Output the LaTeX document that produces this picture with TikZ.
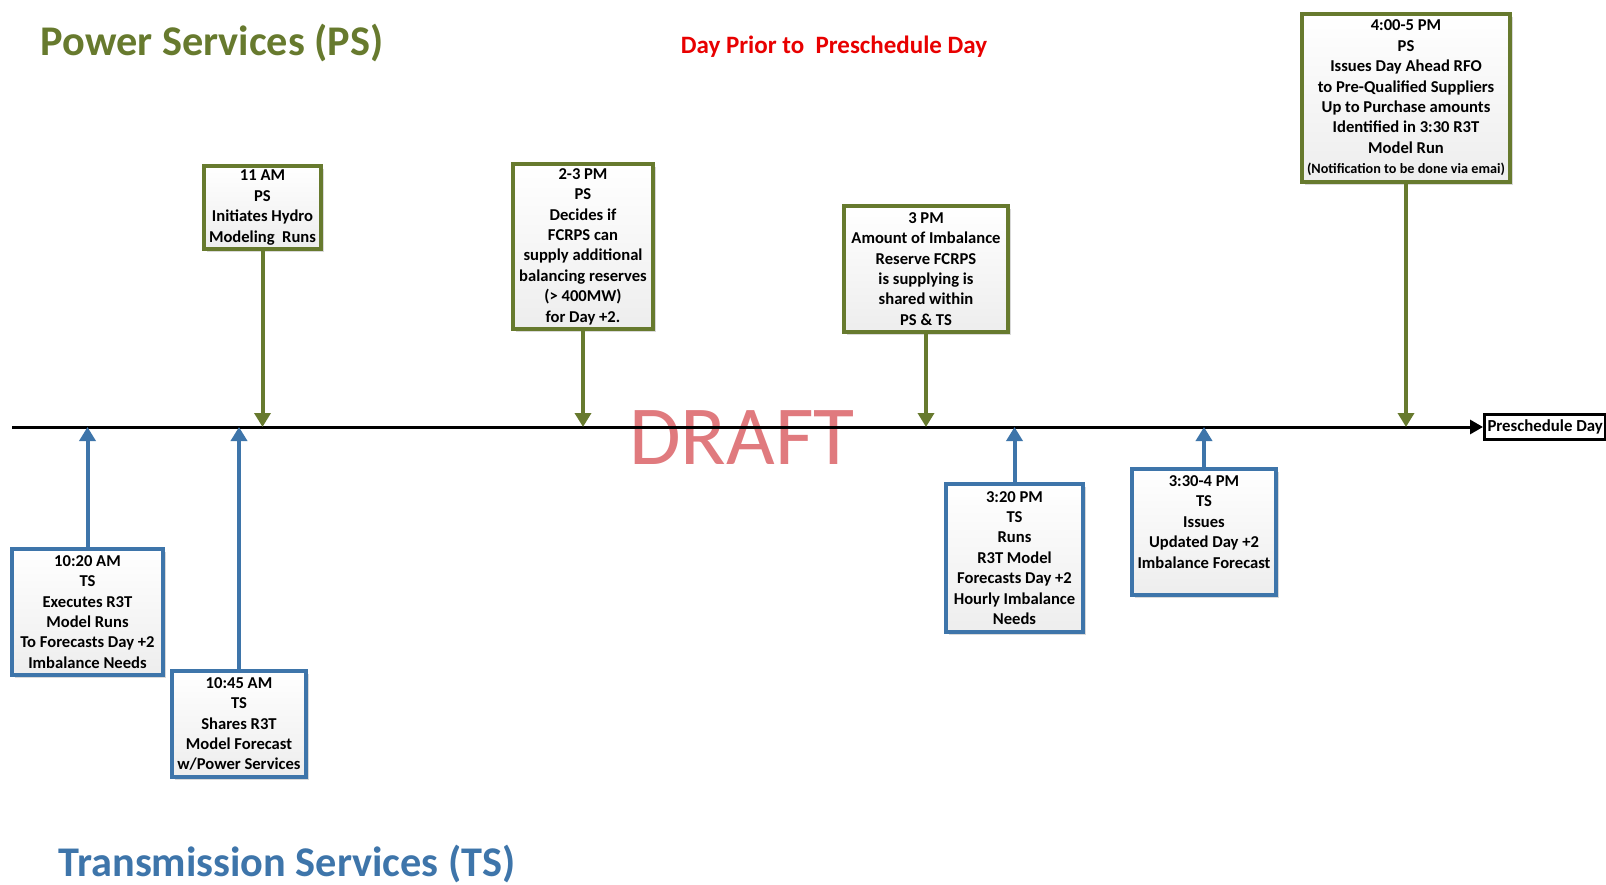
\documentclass[tikz,border=0pt]{standalone}
\usepackage{fontspec}
\setmainfont{Carlito}
\usetikzlibrary{arrows.meta,shadows}

\definecolor{psgreen}{RGB}{103,122,46}
\definecolor{tsblue}{RGB}{62,117,170}
\definecolor{draftred}{RGB}{224,122,126}
\definecolor{dayred}{RGB}{232,0,0}

\tikzset{
  psbox/.style={draw=psgreen, line width=4pt, top color=white, bottom color=gray!14,
    drop shadow={opacity=0.3, shadow xshift=3pt, shadow yshift=-3pt},
    align=center, inner sep=2pt, anchor=north,
    font=\bfseries\fontsize{16.6}{20.4}\selectfont},
  tsbox/.style={psbox, draw=tsblue},
  psarrow/.style={draw=psgreen, line width=4pt, -{Triangle[width=16pt,length=14pt]}},
  tsarrow/.style={psarrow, draw=tsblue},
  timeline/.style={line width=3pt, -{Triangle[width=14pt,length=13pt]}},
}

\begin{document}
\begin{tikzpicture}[x=1pt,y=1pt,yscale=-1,xscale=1]
    \useasboundingbox (0,0) rectangle (1606,885); %picture is 1606 by 885

    % Titles
    \node (pstitle) [anchor=west, text=psgreen, font=\bfseries\fontsize{42.3}{48}\selectfont] at (37,43) {Power Services (PS)};
    \node (tstitle) [anchor=west, text=tsblue, font=\bfseries\fontsize{42.3}{48}\selectfont] at (55,864) {Transmission Services (TS)};
    \node (daytitle) [text=dayred, font=\bfseries\fontsize{25}{30}\selectfont] at (834,47) {Day Prior to\ \ Preschedule Day};

    % Watermark
    \node (draft) [text=draftred, font=\fontsize{84}{90}\selectfont] at (742,438) {DRAFT};

    % Timeline
    \coordinate (tl) at (12,427);
    \node (pday) [anchor=west, draw, line width=3pt, fill=white, inner xsep=3pt, inner ysep=5pt, font=\bfseries\fontsize{16.8}{19}\selectfont] at (1483,427) {Preschedule Day};
    \draw [timeline] (tl) -- (pday.west);

    % Power Services boxes
    \node (b11) [psbox, minimum width=117pt, minimum height=83pt] at (262.5,164) {11 AM\\PS\\Initiates Hydro\\Modeling\ \ Runs};
    \node (b23) [psbox, minimum width=140pt, minimum height=165pt] at (583,162) {2-3 PM\\PS\\Decides if\\FCRPS can\\supply additional\\balancing reserves\\(> 400MW)\\for Day +2.};
    \node (b3) [psbox, minimum width=164pt, minimum height=126pt] at (926,204) {3 PM\\Amount of Imbalance\\Reserve FCRPS\\is supplying is\\shared within\\PS \& TS};
    \node (b45) [psbox, minimum width=208pt, minimum height=168pt] at (1406,12) {4:00-5 PM\\PS\\Issues Day Ahead RFO\\to Pre-Qualified Suppliers\\Up to Purchase amounts\\Identified in 3:30 R3T\\Model Run\\{\fontsize{14.2}{17}\selectfont(Notification to be done via emai)}};

    % Transmission Services boxes
    \node (b1020) [tsbox, minimum width=151pt, minimum height=126pt] at (87.5,547) {10:20 AM\\TS\\Executes R3T\\Model Runs\\To Forecasts Day +2\\Imbalance Needs};
    \node (b1045) [tsbox, minimum width=134pt, minimum height=106pt] at (239,669) {10:45 AM\\TS\\Shares R3T\\Model Forecast\\w/Power Services};
    \node (b320) [tsbox, minimum width=137pt, minimum height=148pt] at (1014.5,482) {3:20 PM\\TS\\Runs\\R3T Model\\Forecasts Day +2\\Hourly Imbalance\\Needs};
    \node (b330) [tsbox, minimum width=144pt, minimum height=126pt] at (1204,467) {3:30-4 PM\\TS\\Issues\\Updated Day +2\\Imbalance Forecast\\\mbox{}};

    % Arrows to the timeline
    \foreach \b in {b11,b23,b3,b45}
      \draw [psarrow] (\b.south) -- (\b.south |- tl);
    \foreach \b in {b1020,b1045,b320,b330}
      \draw [tsarrow] (\b.north) -- (\b.north |- tl);

\end{tikzpicture}
\end{document}
